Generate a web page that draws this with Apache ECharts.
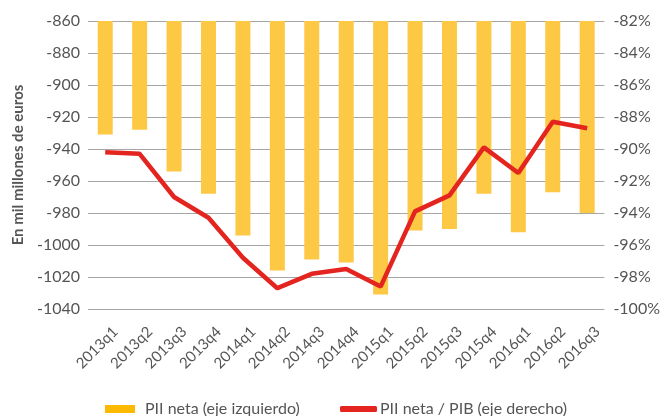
<!DOCTYPE html>
<html>
<head>
<meta charset="utf-8">
<script src="https://cdn.jsdelivr.net/npm/echarts@6/dist/echarts.min.js"></script>
<style>
  html, body { margin: 0; padding: 0; background: #fff; }
  #chart { width: 663px; height: 416px; }
</style>
</head>
<body>
<div id="chart"></div>
<script>
  const quarters = ['2013q1', '2013q2', '2013q3', '2013q4', '2014q1', '2014q2', '2014q3', '2014q4',
    '2015q1', '2015q2', '2015q3', '2015q4', '2016q1', '2016q2', '2016q3'];
  // PII neta, mil millones de euros (eje izquierdo)
  const piiNeta = [-931, -928, -954, -968, -994, -1016, -1009, -1011, -1031, -991, -990, -968, -992, -967, -980];
  // PII neta / PIB, % (eje derecho)
  const piiPib = [-90.2, -90.3, -93.0, -94.3, -96.8, -98.7, -97.8, -97.5, -98.6, -93.9, -92.9, -89.9, -91.5, -88.3, -88.7];

  const font = 'Lato, "Liberation Sans", sans-serif';
  const textColor = '#555';
  const chart = echarts.init(document.getElementById('chart'));
  chart.setOption({
    animation: false,
    textStyle: { fontFamily: font },
    grid: { left: 88, right: 55, top: 21, bottom: 107 },
    legend: [
      {
        top: 396,
        left: 100,
        icon: 'rect',
        itemWidth: 30,
        itemHeight: 8,
        textStyle: { fontSize: 16, color: textColor, fontFamily: font, padding: [0, 0, 0, 5] },
        data: [{ name: 'PII neta (eje izquierdo)', itemStyle: { color: '#FDB900' } }]
      },
      {
        top: 396,
        left: 335,
        icon: 'roundRect',
        itemWidth: 37,
        itemHeight: 6,
        textStyle: { fontSize: 16, color: textColor, fontFamily: font, padding: [0, 0, 0, -2] },
        data: [{ name: 'PII neta / PIB (eje derecho)', itemStyle: { color: '#E3241F' } }]
      }
    ],
    xAxis: {
      type: 'category',
      data: quarters,
      axisTick: { show: false },
      axisLine: { show: false },
      axisLabel: {
        rotate: 45, fontSize: 15, color: textColor, margin: 10,
        verticalAlign: 'top', padding: [7, 0, 0, 0]
      }
    },
    yAxis: [
      {
        type: 'value',
        min: -1040,
        max: -860,
        interval: 20,
        name: 'En mil millones de euros',
        nameLocation: 'middle',
        nameGap: 48,
        nameTextStyle: { fontSize: 15, fontWeight: 'bold', color: textColor },
        axisLabel: { fontSize: 16, color: textColor, margin: 8, formatter: (v) => String(v) },
        splitLine: { lineStyle: { color: '#a6a6a6', width: 1.2 } }
      },
      {
        type: 'value',
        min: -100,
        max: -82,
        interval: 2,
        axisLabel: { fontSize: 16, color: textColor, margin: 9, formatter: '{value}%' },
        splitLine: { show: false }
      }
    ],
    series: [
      {
        name: 'PII neta (eje izquierdo)',
        type: 'bar',
        yAxisIndex: 0,
        data: piiNeta,
        barWidth: 15,
        clip: true,
        itemStyle: { color: '#FDC843' }
      },
      {
        name: 'PII neta / PIB (eje derecho)',
        type: 'line',
        yAxisIndex: 1,
        data: piiPib,
        symbol: 'none',
        lineStyle: { color: '#E3241F', width: 4.5 },
        itemStyle: { color: '#E3241F' }
      }
    ]
  });
</script>
</body>
</html>
